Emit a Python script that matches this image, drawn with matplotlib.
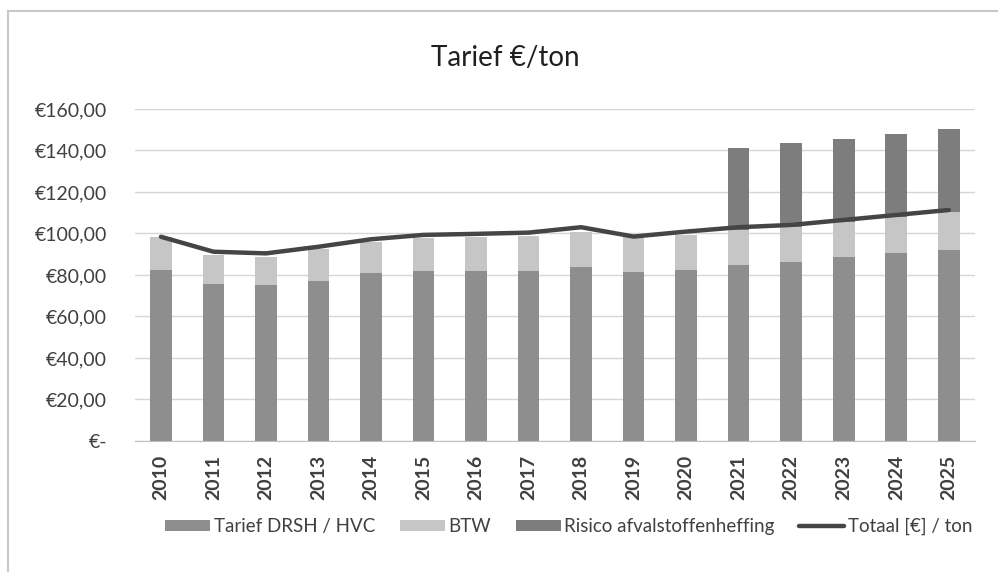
import numpy as np
import matplotlib
matplotlib.use('Agg')
import matplotlib.pyplot as plt
from matplotlib.patches import Rectangle
from matplotlib.ticker import FuncFormatter

plt.rcParams['font.family'] = ['Lato', 'DejaVu Sans']

years = ['2010', '2011', '2012', '2013', '2014', '2015', '2016', '2017',
         '2018', '2019', '2020', '2021', '2022', '2023', '2024', '2025']
tarief = [82.4, 75.7, 75.2, 77.3, 81.1, 82.1, 82.1, 82.1,
          84.0, 81.6, 82.4, 84.8, 86.4, 88.5, 90.4, 92.0]
btw = [16.0, 13.9, 13.6, 15.1, 14.9, 15.6, 16.1, 16.7,
       16.9, 17.7, 16.9, 16.9, 16.9, 17.2, 17.7, 18.5]
risico = [0, 0, 0, 0, 0, 0, 0, 0,
          0, 0, 0, 39.3, 40.1, 39.7, 39.9, 39.7]
totaal = [98.4, 91.2, 90.4, 93.6, 97.2, 99.3, 99.8, 100.4,
          103.0, 98.5, 100.9, 103.0, 104.1, 106.5, 108.9, 111.3]

c_tarief = '#8e8e8e'
c_btw = '#c6c6c6'
c_risico = '#7d7d7d'
c_line = '#454545'
c_text = '#404040'

fig = plt.figure(figsize=(9.98, 5.72), dpi=100)
ax = fig.add_axes([0.135, 0.229, 0.842, 0.5806])

x = np.arange(len(years))
w = 0.41
bottom2 = np.array(tarief) + np.array(btw)
b1 = ax.bar(x, tarief, w, color=c_tarief, label='Tarief DRSH / HVC', zorder=2)
b2 = ax.bar(x, btw, w, bottom=tarief, color=c_btw, label='BTW', zorder=2)
b3 = ax.bar(x, risico, w, bottom=bottom2, color=c_risico,
            label='Risico afvalstoffenheffing', zorder=2)
ln, = ax.plot(x, totaal, color=c_line, lw=3.2, label='Totaal [€] / ton',
              solid_capstyle='round', zorder=3)

ax.set_xlim(-0.5, len(years) - 0.5)
ax.set_ylim(0, 160)
ax.set_yticks(np.arange(0, 161, 20))
ax.yaxis.set_major_formatter(FuncFormatter(
    lambda v, p: '€-' if v == 0 else '€{:.2f}'.format(v).replace('.', ',')))
ax.set_xticks(x)
ax.set_xticklabels(years, rotation=90, fontsize=14, fontweight='bold', color=c_text)
ax.tick_params(axis='y', length=0, pad=20, labelsize=14, labelcolor=c_text)
ax.tick_params(axis='x', length=0, pad=10)
ax.grid(axis='y', color='#d6d6d6', lw=1, zorder=0)
for s in ['top', 'right', 'left']:
    ax.spines[s].set_visible(False)
ax.spines['bottom'].set_color('#bfbfbf')

fig.text(0.506, 0.898, 'Tarief €/ton', ha='center', va='center',
         fontsize=20, color='#202020')

fig.legend([b1, b2, b3, ln],
           ['Tarief DRSH / HVC', 'BTW', 'Risico afvalstoffenheffing', 'Totaal [€] / ton'],
           loc='center', bbox_to_anchor=(0.57, 0.079), ncol=4, frameon=False,
           fontsize=13.5, handlelength=2.4, handleheight=0.5, columnspacing=1.3,
           handletextpad=0.2, labelcolor=c_text)

fig.patches.append(Rectangle((8 / 998, -0.01), 1.0, 1 - 11 / 572 + 0.01,
                             transform=fig.transFigure, fill=False,
                             edgecolor='#c8c8c8', lw=1.5))

fig.savefig('out.png', dpi=100)
